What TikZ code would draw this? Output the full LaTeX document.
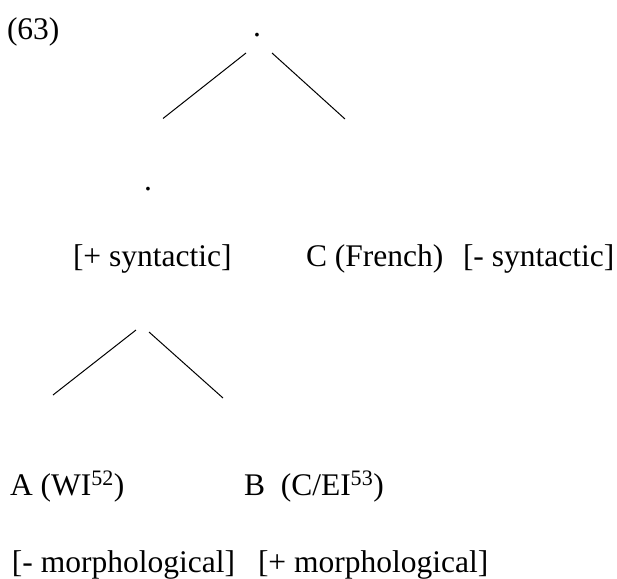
\documentclass[tikz,border=0pt]{standalone}
\usepackage{fontspec}
\setmainfont{Liberation Serif}
\tikzset{
  lbl/.style={anchor=base west, inner sep=0pt, outer sep=0pt, font=\fontsize{31.5}{36}\selectfont},
  dotnode/.style={anchor=base, inner sep=0pt, outer sep=0pt, font=\fontsize{31.5}{36}\selectfont},
  branch/.style={line width=1pt, line cap=butt}
}
\begin{document}
\begin{tikzpicture}[x=1pt,y=-1pt]
\useasboundingbox (0,0) rectangle (617,578);
% label
\node[lbl] (ex) at (7,40) {(63)};
% top dot
\node[dotnode] (top) at (257,37) {.};
\coordinate (t1) at (246,53);
\coordinate (t2) at (163,118.5);
\coordinate (t3) at (272,53);
\coordinate (t4) at (345,119);
\draw[branch] (t1) -- (t2);
\draw[branch] (t3) -- (t4);
% second dot
\node[dotnode] (mid) at (148,190) {.};
% second row
\node[lbl] (plussyn) at (73,266) {[+ syntactic]};
\node[lbl] (cfr) at (306,266) {C (French)};
\node[lbl] (minsyn) at (463,266) {[- syntactic]};
% lower branches
\coordinate (b1) at (136,330);
\coordinate (b2) at (53,395);
\coordinate (b3) at (149,332);
\coordinate (b4) at (223,398);
\draw[branch] (b1) -- (b2);
\draw[branch] (b3) -- (b4);
% bottom rows
\node[lbl] (A) at (10,495) {A (WI\textsuperscript{52})};
\node[lbl] (B) at (244,495) {B\ \ (C/EI\textsuperscript{53})};
\node[lbl] (minmor) at (12,572) {[- morphological]};
\node[lbl] (plusmor) at (258,572) {[+ morphological]};
\end{tikzpicture}
\end{document}
